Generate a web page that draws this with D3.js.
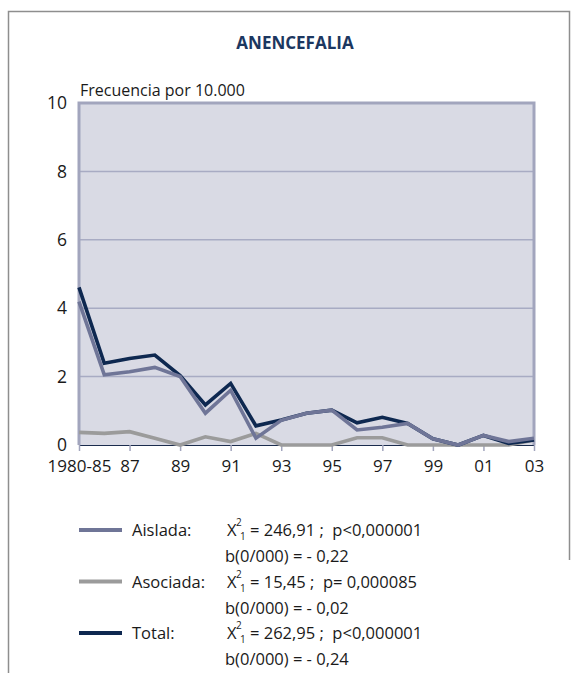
<!DOCTYPE html>
<html>
<head>
<meta charset="utf-8">
<script src="https://cdn.jsdelivr.net/npm/d3@7"></script>
<style>
  html, body { margin: 0; padding: 0; background: #fff; }
  svg { display: block; font-family: "Open Sans", "Noto Sans", sans-serif; }
</style>
</head>
<body>
<svg id="chart" width="575" height="673"></svg>
<script>
// Anencefalia: frecuencia por 10.000 nacimientos, 1980-85 a 2003
const categories = ["1980-85","86","87","88","89","90","91","92","93","94","95","96","97","98","99","00","01","02","03"];
const tickLabels = ["1980-85","87","89","91","93","95","97","99","01","03"];
const yTicks = [0, 2, 4, 6, 8, 10];

const aislada  = [4.19, 2.05, 2.14, 2.27, 2.00, 0.93, 1.60, 0.20, 0.72, 0.93, 1.02, 0.44, 0.52, 0.63, 0.18, 0.00, 0.28, 0.10, 0.20];
const asociada = [0.37, 0.34, 0.39, 0.20, 0.00, 0.24, 0.10, 0.34, 0.00, 0.00, 0.00, 0.21, 0.21, 0.00, 0.00, 0.00, 0.00, 0.00, 0.15];
const total    = [4.61, 2.39, 2.53, 2.63, 2.03, 1.17, 1.80, 0.56, 0.73, 0.93, 1.02, 0.65, 0.81, 0.63, 0.18, 0.00, 0.28, 0.05, 0.15];

const seriesNames = ["Aislada", "Asociada", "Total"];
const chi2 = ["246,91", "15,45", "262,95"];
const pText = ["p<0,000001", "p= 0,000085", "p<0,000001"];
const slopes = ["- 0,22", "- 0,02", "- 0,24"];

const colors = { Aislada: "#6f7597", Asociada: "#9b9b9b", Total: "#0e2850" };

const svg = d3.select("#chart");

// outer frame
const frame = svg.append("g").attr("stroke", "#8e8e8e").attr("stroke-width", 1.5).attr("fill", "none");
frame.append("path").attr("d", "M8.5,673 V11.5 H569.5 V560");

// title
svg.append("text")
  .attr("x", 295).attr("y", 49)
  .attr("text-anchor", "middle")
  .attr("font-size", 17).attr("font-weight", 700)
  .attr("fill", "#1c3760")
  .text("ANENCEFALIA");

svg.append("text")
  .attr("x", 80).attr("y", 96)
  .attr("font-size", 16).attr("fill", "#1a1a1a")
  .text("Frecuencia por 10.000");

const x = d3.scalePoint().domain(categories).range([79, 534]);
const y = d3.scaleLinear().domain([0, 10]).range([445, 103]);

// plot area
svg.append("rect")
  .attr("x", x.range()[0]).attr("y", y(10))
  .attr("width", x.range()[1] - x.range()[0]).attr("height", y(0) - y(10))
  .attr("fill", "#d9dae4");

// horizontal gridlines
svg.append("g").selectAll("line")
  .data(yTicks.filter(d => d > 0 && d < 10))
  .join("line")
  .attr("x1", x.range()[0]).attr("x2", x.range()[1])
  .attr("y1", d => y(d)).attr("y2", d => y(d))
  .attr("stroke", "#a8abc3").attr("stroke-width", 1.5);

// plot border (left, top, right)
svg.append("path")
  .attr("d", `M${x.range()[0]},${y(0)} V${y(10)} H${x.range()[1]} V${y(0)}`)
  .attr("fill", "none").attr("stroke", "#a2a5bd").attr("stroke-width", 3);

// y axis labels
const yAxis = d3.axisLeft(y).tickValues(yTicks).tickSize(0).tickPadding(12).tickFormat(d3.format("d"));
const gy = svg.append("g").attr("transform", `translate(${x.range()[0]},0)`).call(yAxis);
gy.select(".domain").remove();
gy.selectAll("text").attr("font-size", 17.5).attr("fill", "#1a1a1a").attr("font-family", "Open Sans, Noto Sans, sans-serif");

// x axis
const xAxis = d3.axisBottom(x).tickValues(tickLabels).tickSize(6).tickSizeOuter(0).tickPadding(9);
const gx = svg.append("g").attr("transform", `translate(0,${y(0)})`).call(xAxis);
gx.select(".domain").attr("stroke", "#1b2c4d").attr("stroke-width", 1.2);
gx.selectAll(".tick line").attr("stroke", "#a2a5bd").attr("stroke-width", 1.5);
gx.selectAll("text").attr("font-size", 17).attr("fill", "#1a1a1a").attr("font-family", "Open Sans, Noto Sans, sans-serif");

// series lines
const line = d3.line().x((d, i) => x(categories[i])).y(d => y(d));
const drawOrder = [["Asociada", asociada], ["Total", total], ["Aislada", aislada]];
svg.append("g").selectAll("path")
  .data(drawOrder)
  .join("path")
  .attr("d", d => line(d[1]))
  .attr("fill", "none")
  .attr("stroke", d => colors[d[0]])
  .attr("stroke-width", 3.6)
  .attr("stroke-linejoin", "miter");

// legend with statistics
const rowTop = 530, rowGap = 51.5, subGap = 26;
const legend = svg.append("g").attr("font-size", 16.5).attr("fill", "#1a1a1a");
seriesNames.forEach((name, i) => {
  const cy = rowTop + i * rowGap;
  const base = cy + 6;
  legend.append("line")
    .attr("x1", 79).attr("x2", 122).attr("y1", cy).attr("y2", cy)
    .attr("stroke", colors[name]).attr("stroke-width", 4);
  legend.append("text").attr("x", 132).attr("y", base).text(name + ":");
  legend.append("text").attr("x", 227).attr("y", base).text("X");
  legend.append("text").attr("x", 236).attr("y", base - 10).attr("font-size", 10).text("2");
  legend.append("text").attr("x", 240).attr("y", base + 4).attr("font-size", 10).text("1");
  legend.append("text").attr("x", 250).attr("y", base).attr("xml:space", "preserve")
    .text(`= ${chi2[i]} ;  ${pText[i]}`);
  legend.append("text").attr("x", 225).attr("y", base + subGap)
    .text(`b(0/000) = ${slopes[i]}`);
});
</script>
</body>
</html>
